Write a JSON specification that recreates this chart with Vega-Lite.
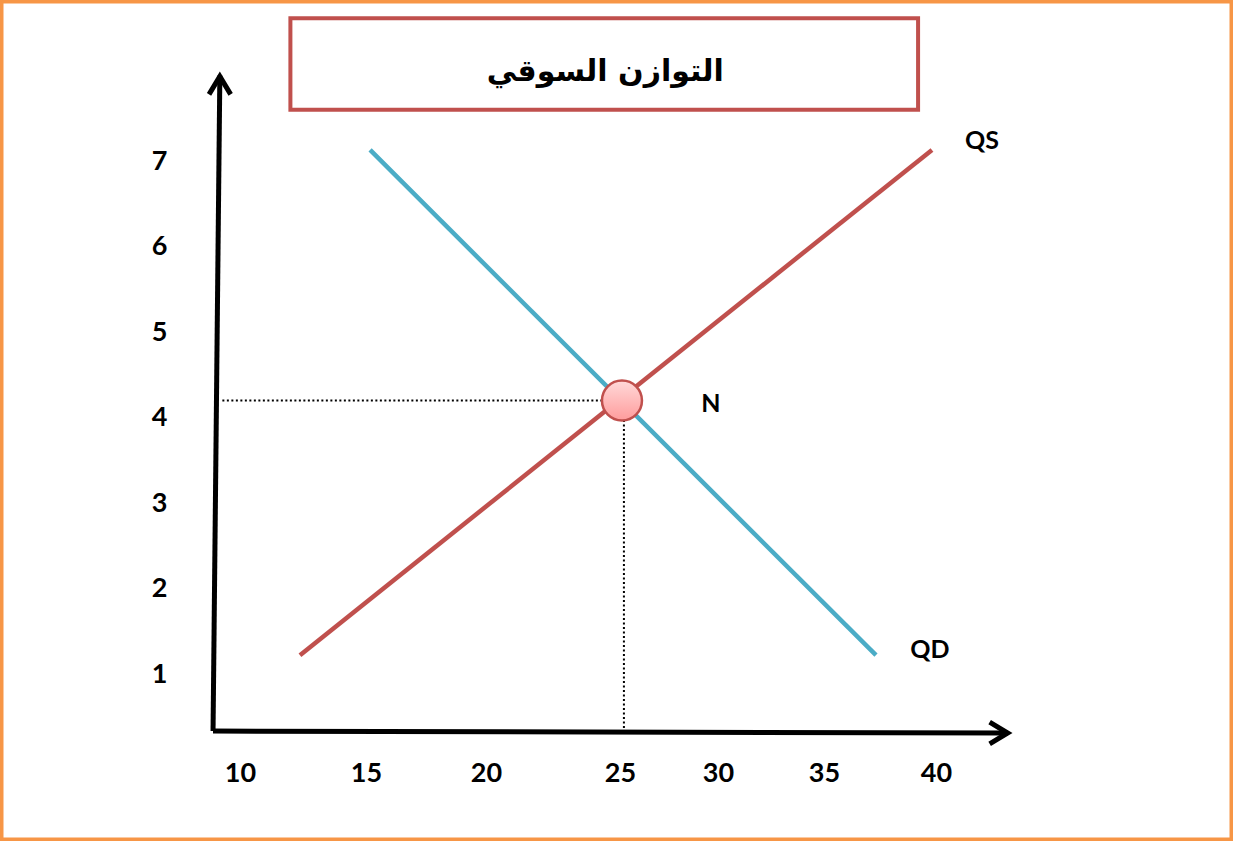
{
  "$schema": "https://vega.github.io/schema/vega-lite/v6.json",
  "width": 1233,
  "height": 841,
  "padding": 0,
  "autosize": {"type": "none"},
  "background": "white",
  "view": {"stroke": "#F79646", "strokeWidth": 7},
  "config": {"axis": {"grid": false, "domain": false, "ticks": false, "tickSize": 0, "title": null, "labelFont": "Lato", "labelFontWeight": "bold", "labelFontSize": 27, "labelColor": "#000000", "labelOverlap": false, "labelFlush": false, "labelPadding": 0}},
  "encoding": {
    "x": {"field": "x", "type": "quantitative",
      "scale": {"type": "linear", "domain": [10, 15, 20, 25, 30, 35, 40], "range": [240, 366, 486, 620, 718, 824, 936], "nice": false, "zero": false},
      "axis": {"orient": "bottom", "offset": -68, "values": [10, 15, 20, 25, 30, 35, 40], "labelBaseline": "middle", "labelAlign": "center"}},
    "y": {"field": "y", "type": "quantitative",
      "scale": {"domain": [-0.953, 8.883], "nice": false, "zero": false},
      "axis": {"orient": "left", "offset": -159, "values": [1, 2, 3, 4, 5, 6, 7], "labelAlign": "center", "labelBaseline": "middle"}}
  },
  "layer": [
    {
      "data": {"values": [{"x": 12.0, "x2": 39.2, "y": 8.67, "y2": 7.6}]},
      "mark": {"type": "rect", "fill": "white", "stroke": "#C0504D", "strokeWidth": 4},
      "encoding": {"x2": {"field": "x2"}, "y2": {"field": "y2"}}
    },
    {
      "data": {"values": [{"x": 24.45, "y": 8.04, "label": "التوازن السوقي"}]},
      "mark": {"type": "text", "font": "DejaVu Sans", "fontWeight": "bold", "fontSize": 30, "color": "#000000", "align": "center", "baseline": "middle"},
      "encoding": {"text": {"field": "label"}}
    },
    {
      "data": {"values": [{"x": 8.93, "y": 0.333}, {"x": 9.2, "y": 8.0}]},
      "mark": {"type": "line", "color": "#000000", "strokeWidth": 5},
      "encoding": {"order": {"field": "y"}}
    },
    {
      "data": {"values": [{"x": 8.93, "y": 0.333}, {"x": 43.2, "y": 0.31}]},
      "mark": {"type": "line", "color": "#000000", "strokeWidth": 5},
      "encoding": {}
    },
    {
      "data": {"values": [{"x": 9.2, "y": 7.99}]},
      "mark": {"type": "point", "shape": "M -0.6 1 L 0 0 L 0.6 1", "filled": false, "stroke": "#000000", "strokeWidth": 5, "size": 1300, "opacity": 1, "strokeJoin": "miter"},
      "encoding": {}
    },
    {
      "data": {"values": [{"x": 43.2, "y": 0.31}]},
      "mark": {"type": "point", "shape": "M -1 -0.6 L 0 0 L -1 0.6", "filled": false, "stroke": "#000000", "strokeWidth": 5, "size": 1300, "opacity": 1, "strokeJoin": "miter"},
      "encoding": {}
    },
    {
      "data": {"values": [{"x": 9.3, "x2": 25.1, "y": 4.2}]},
      "mark": {"type": "rule", "color": "#000000", "strokeWidth": 2, "strokeDash": [2, 2.5]},
      "encoding": {"x2": {"field": "x2"}}
    },
    {
      "data": {"values": [{"x": 25.2, "y": 0.37, "y2": 4.2}]},
      "mark": {"type": "rule", "color": "#000000", "strokeWidth": 2, "strokeDash": [2, 2.5]},
      "encoding": {"y2": {"field": "y2"}}
    },
    {
      "data": {"values": [{"x": 15.17, "y": 7.13}, {"x": 37.32, "y": 1.22}]},
      "mark": {"type": "line", "color": "#4BACC6", "strokeWidth": 4.5},
      "encoding": {}
    },
    {
      "data": {"values": [{"x": 12.38, "y": 1.22}, {"x": 39.82, "y": 7.13}]},
      "mark": {"type": "line", "color": "#C0504D", "strokeWidth": 4.5},
      "encoding": {}
    },
    {
      "data": {"values": [{"x": 25.1, "y": 4.2}]},
      "mark": {"type": "point", "shape": "circle", "size": 1600, "opacity": 1, "strokeWidth": 2.5, "stroke": "#C0504D",
        "fill": {"gradient": "linear", "x1": 0, "y1": 0, "x2": 0, "y2": 1, "stops": [{"offset": 0, "color": "#FFD9D9"}, {"offset": 1, "color": "#FF9C9C"}]}},
      "encoding": {}
    },
    {
      "data": {"values": [{"x": 42.05, "y": 7.23, "label": "QS"}, {"x": 39.73, "y": 1.28, "label": "QD"}, {"x": 29.64, "y": 4.16, "label": "N"}]},
      "mark": {"type": "text", "font": "Lato", "fontWeight": "bold", "fontSize": 25, "color": "#000000", "align": "center", "baseline": "middle"},
      "encoding": {"text": {"field": "label"}}
    }
  ]
}
